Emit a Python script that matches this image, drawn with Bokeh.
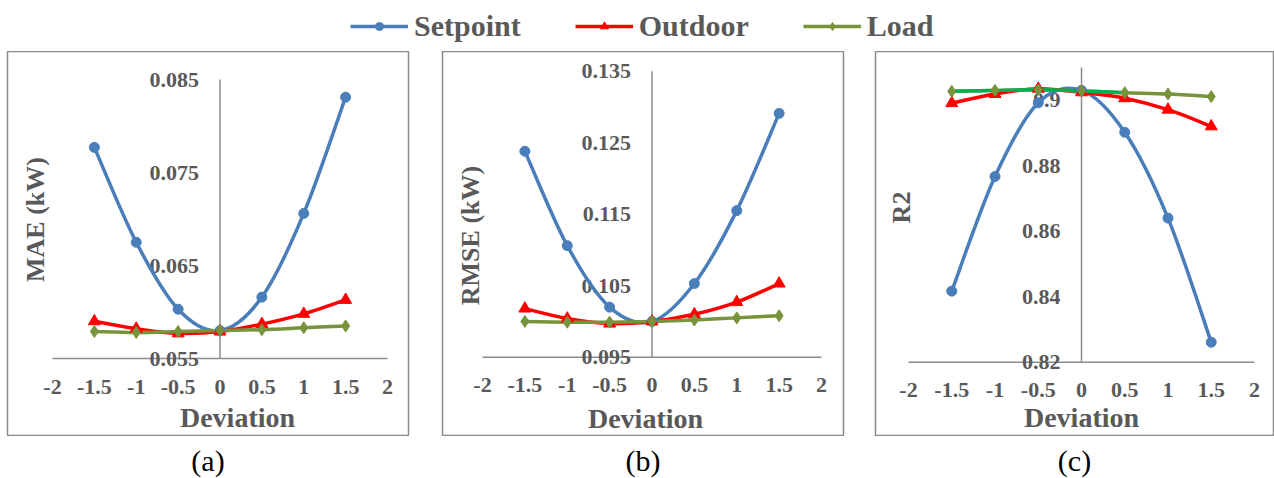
import math
from bokeh.plotting import figure
from bokeh.models import Range1d, Legend, LegendItem, ColumnDataSource
from bokeh.layouts import column, row
from bokeh.embed import file_html
from bokeh.resources import INLINE
from bokeh.core.properties import value

# ---------------- data ----------------
deviation = [-1.5, -1.0, -0.5, 0.0, 0.5, 1.0, 1.5]
x_ticks = [-2, -1.5, -1, -0.5, 0, 0.5, 1, 1.5, 2]
x_tick_labels = ["-2", "-1.5", "-1", "-0.5", "0", "0.5", "1", "1.5", "2"]

mae_setpoint = [0.0777, 0.0675, 0.0603, 0.0580, 0.0616, 0.0706, 0.0831]
mae_outdoor = [0.0590, 0.0582, 0.0577, 0.0579, 0.0587, 0.0598, 0.0613]
mae_load = [0.0579, 0.0578, 0.0579, 0.0580, 0.0581, 0.0583, 0.0585]
mae_ticks = [0.055, 0.065, 0.075, 0.085]
mae_tick_labels = ["0.055", "0.065", "0.075", "0.085"]

rmse_setpoint = [0.1238, 0.1106, 0.1020, 0.1000, 0.1053, 0.1155, 0.1291]
rmse_outdoor = [0.1018, 0.1004, 0.0997, 0.1000, 0.1010, 0.1027, 0.1053]
rmse_load = [0.1000, 0.0999, 0.0999, 0.1000, 0.1002, 0.1005, 0.1008]
rmse_ticks = [0.095, 0.105, 0.115, 0.125, 0.135]
rmse_tick_labels = ["0.095", "0.105", "0.115", "0.125", "0.135"]

r2_setpoint = [0.8417, 0.8767, 0.8992, 0.9030, 0.8902, 0.8640, 0.8261]
r2_outdoor = [0.8991, 0.9019, 0.9035, 0.9024, 0.9006, 0.8971, 0.8920]
r2_load = [0.9027, 0.9030, 0.9032, 0.9028, 0.9023, 0.9019, 0.9011]
r2_ticks = [0.82, 0.84, 0.86, 0.88, 0.90]
r2_tick_labels = ["0.82", "0.84", "0.86", "0.88", "0.9"]
r2_axis_max = 0.91

series_names = ["Setpoint", "Outdoor", "Load"]
captions = ["(a)", "(b)", "(c)"]

# ---------------- styles ----------------
C_SET = "#4A7EBB"
C_OUT = "#FF0000"
C_LOAD = "#77933C"
C_LOAD_HI = "#00B050"
AXIS_C = "#8C8C8C"
TXT_C = "#595959"
FONT_NAME = "Liberation Serif"
FONT = value(FONT_NAME)
LW = 3.5
MARKERS = (("circle", 10), ("triangle", 12), ("diamond", 12))
W = 1274
TOP_H = 51
PANEL_H = 385
BOT_H = 42


def smooth(xs, ys):
    n = len(xs)
    out = dict(x0=[], y0=[], x1=[], y1=[], cx0=[], cy0=[], cx1=[], cy1=[])
    for i in range(n - 1):
        a = max(i - 1, 0)
        d = min(i + 2, n - 1)
        out["x0"].append(xs[i]); out["y0"].append(ys[i])
        out["x1"].append(xs[i + 1]); out["y1"].append(ys[i + 1])
        out["cx0"].append(xs[i] + (xs[i + 1] - xs[a]) / 6.0)
        out["cy0"].append(ys[i] + (ys[i + 1] - ys[a]) / 6.0)
        out["cx1"].append(xs[i + 1] - (xs[d] - xs[i]) / 6.0)
        out["cy1"].append(ys[i + 1] - (ys[d] - ys[i]) / 6.0)
    return out


def panel(fw, bl, br, geo, yticks, ylabels, ymax, ytitle, sets, hi_load=False):
    xl, xr, yt, yb, dev_px, yt_px = geo
    ppx = (xr - xl) / (x_ticks[-1] - x_ticks[0])
    x0 = x_ticks[0] - xl / ppx
    x1 = x0 + fw / ppx
    ppy = (yb - yt) / (yticks[-1] - yticks[0])
    y1 = yticks[-1] + yt / ppy
    y0 = y1 - PANEL_H / ppy

    p = figure(width=fw + bl + br, height=PANEL_H, x_range=Range1d(x0, x1), y_range=Range1d(y0, y1),
               x_axis_location=None, y_axis_location=None, toolbar_location=None,
               output_backend="svg", min_border_left=bl, min_border_right=br,
               min_border_top=0, min_border_bottom=0)
    p.grid.visible = False
    p.outline_line_color = "#8A8A8A"
    p.outline_line_width = 1.5
    p.background_fill_color = "white"
    p.border_fill_color = "white"

    p.segment(x0=[x_ticks[0], 0], y0=[yticks[0], yticks[0]], x1=[x_ticks[-1], 0], y1=[yticks[0], ymax],
              line_color=AXIS_C, line_width=1.5)
    p.text(x=[0] * len(yticks), y=yticks, text=ylabels, x_offset=-21, text_align="right",
           text_baseline="middle", text_font=FONT, text_font_style="bold", text_font_size="22px",
           text_color=TXT_C)
    p.text(x=x_ticks, y=[yticks[0]] * len(x_ticks), text=x_tick_labels, y_offset=28,
           text_align="center", text_baseline="middle", text_font=FONT, text_font_style="bold",
           text_font_size="22px", text_color=TXT_C)
    p.text(x=[x0 + dev_px[0] / ppx], y=[y1 - dev_px[1] / ppy], text=["Deviation"], text_align="center",
           text_baseline="middle", text_font=FONT, text_font_style="bold", text_font_size="28px",
           text_color=TXT_C)
    p.text(x=[x0 + yt_px[0] / ppx], y=[y1 - yt_px[1] / ppy], text=[ytitle], angle=math.pi / 2,
           text_align="center", text_baseline="middle", text_font=FONT, text_font_style="bold",
           text_font_size="26px", text_color=TXT_C)

    s_set, s_out, s_load = sets
    for ys, col in ((s_set, C_SET), (s_out, C_OUT), (s_load, C_LOAD)):
        p.bezier(source=ColumnDataSource(smooth(deviation, ys)), x0="x0", y0="y0", x1="x1", y1="y1",
                 cx0="cx0", cy0="cy0", cx1="cx1", cy1="cy1", line_color=col, line_width=LW,
                 line_cap="round")
    if hi_load:
        p.bezier(source=ColumnDataSource(smooth(deviation[:5], s_load[:5])), x0="x0", y0="y0", x1="x1",
                 y1="y1", cx0="cx0", cy0="cy0", cx1="cx1", cy1="cy1", line_color=C_LOAD_HI,
                 line_width=LW, line_cap="round")
    for ys, col, (mk, sz) in zip((s_set, s_out, s_load), (C_SET, C_OUT, C_LOAD), MARKERS):
        p.scatter(deviation, ys, marker=mk, size=sz, color=col)
    return p


pa = panel(401, 7, 17, (45, 380, 28, 307, (230, 366), (28, 168)),
           mae_ticks, mae_tick_labels, mae_ticks[-1], "MAE (kW)",
           (mae_setpoint, mae_outdoor, mae_load))
pb = panel(401, 17, 16, (40, 379, 19.7, 305.7, (203, 367), (28, 184)),
           rmse_ticks, rmse_tick_labels, rmse_ticks[-1], "RMSE (kW)",
           (rmse_setpoint, rmse_outdoor, rmse_load))
pc = panel(398, 16, 1, (33, 379, 48.7, 310.7, (206, 366), (26, 156)),
           r2_ticks, r2_tick_labels, r2_axis_max, "R2",
           (r2_setpoint, r2_outdoor, r2_load), hi_load=True)

# ---------------- legend strip ----------------
# the series are re-plotted here only to feed the legend; the ranges keep them off-screen
lg = figure(width=W, height=TOP_H, x_range=Range1d(100, 101), y_range=Range1d(100, 101),
            x_axis_location=None, y_axis_location=None, toolbar_location=None,
            output_backend="svg", min_border=0)
lg.grid.visible = False
lg.outline_line_color = None
items = []
for name, ys, col, (mk, sz) in zip(series_names, (mae_setpoint, mae_outdoor, mae_load),
                                   (C_SET, C_OUT, C_LOAD), MARKERS):
    r1 = lg.line(deviation, ys, line_color=col, line_width=LW)
    r2 = lg.scatter(deviation, ys, marker=mk, size=sz, color=col)
    items.append(LegendItem(label=name, renderers=[r1, r2]))
legend = Legend(items=items, orientation="horizontal", location=(350, 8), glyph_width=58,
                glyph_height=20, label_standoff=6, spacing=54, padding=0, margin=0,
                border_line_color=None, background_fill_alpha=0,
                label_text_font=FONT_NAME, label_text_font_style="bold", label_text_font_size="30px",
                label_text_color=TXT_C)
lg.add_layout(legend, "center")

# ---------------- caption strip ----------------
cp = figure(width=W, height=BOT_H, x_range=Range1d(0, W), y_range=Range1d(0, BOT_H),
            x_axis_location=None, y_axis_location=None, toolbar_location=None,
            output_backend="svg", min_border=0)
cp.grid.visible = False
cp.outline_line_color = None
centers = [7 + 401 / 2, 425 + 17 + 401 / 2, 425 + 434 + 16 + 398 / 2]
cp.text(x=centers, y=[BOT_H - 24] * 3, text=captions, text_align="center", text_baseline="middle",
        text_font=FONT, text_font_size="30px", text_color="black")

layout = column(lg, row(pa, pb, pc), cp)
open("out.html", "w").write(file_html(layout, INLINE))
